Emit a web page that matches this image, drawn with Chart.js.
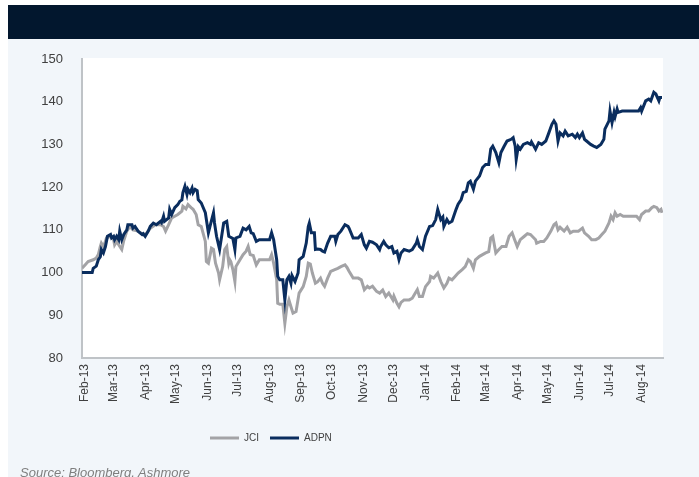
<!DOCTYPE html>
<html>
<head>
<meta charset="utf-8">
<script src="https://cdn.jsdelivr.net/npm/chart.js@4.4.1/dist/chart.umd.min.js"></script>
<style>
  html, body { margin: 0; padding: 0; background: #ffffff; overflow: hidden; }
  #wrap { position: relative; width: 699px; height: 477px; overflow: hidden; }
  #band { position: absolute; left: 8px; top: 5px; width: 691px; height: 34px; background: #02172e; }
  #panel { position: absolute; left: 8px; top: 39px; width: 691px; height: 438px; background: #f2f6fa; }
  #c { position: absolute; left: 0; top: 0; }
  #source { position: absolute; left: 20px; top: 465px; line-height: 15px; font: italic 13px "Liberation Sans", Arial, sans-serif; color: #7f7f7f; white-space: nowrap; }
</style>
</head>
<body>
<div id="wrap">
  <div id="band"></div>
  <div id="panel"></div>
  <canvas id="c" width="699" height="477"></canvas>
  <div id="source">Source: Bloomberg, Ashmore</div>
</div>
<script>
// Day offsets are counted from 1 Feb 2013
const startDate = Date.UTC(2013, 1, 1);
const seriesNames = ['JCI', 'ADPN'];
const monthLabels = ['Feb-13','Mar-13','Apr-13','May-13','Jun-13','Jul-13','Aug-13','Sep-13','Oct-13','Nov-13','Dec-13','Jan-14','Feb-14','Mar-14','Apr-14','May-14','Jun-14','Jul-14','Aug-14'];
const yTicks = [80, 90, 100, 110, 120, 130, 140, 150];

const adpnDays = [-3,7,8,11,13,15,16,18,20,22,25,26,28,29,31,33,34,36,38,41,42,46,47,49,52,56,57,59,62,64,67,70,74,75,77,78,82,83,85,88,91,93,95,96,98,100,101,103,105,106,108,110,111,114,118,121,123,126,127,129,132,134,136,139,141,145,147,148,152,155,158,161,163,165,168,171,181,183,185,188,189,191,194,196,198,200,202,203,206,209,210,214,217,219,220,222,225,226,228,231,233,235,238,241,245,246,248,251,255,258,259,263,268,271,274,276,279,282,286,289,290,293,295,298,301,303,306,308,310,313,318,321,325,326,328,331,334,338,341,344,346,349,351,352,355,357,360,364,366,369,371,374,376,378,381,383,387,390,393,396,398,400,403,406,408,411,414,418,420,422,423,425,427,430,434,437,438,442,445,448,452,455,458,460,462,464,466,469,471,474,478,481,483,485,488,490,492,496,499,502,506,509,510,514,515,517,519,520,522,523,527,532,543,545,546,550,553,555,558,560,563,564,566];
const adpnValues = [100,100,101,101.5,103,103.7,105.4,104.6,106.1,108.5,108.9,108.1,108.5,107.7,108.5,107.7,109.7,107.7,108.9,110,111.2,111.2,110.4,110.8,109.7,108.9,109.1,108.5,109.7,110.8,111.6,111.2,112,111.7,113.2,112,112.8,114.8,113.6,115.2,115.9,116.7,117,118.7,120.2,118.3,119.5,118.7,119.8,118.7,119.5,119.2,117.1,116.3,114,109.3,111.2,114,111.6,108.5,105.4,108.5,111.6,112,108.5,108,105.4,108.1,108.5,110.4,110,110.8,109.3,109.1,107.3,107.7,107.7,109.3,107.7,103,99.1,98.3,98.3,93.6,98.3,99.1,97.5,99.3,97.9,99.9,103,103.8,106.9,110.8,111.6,109.3,109.3,105.4,105.5,105.4,105,104.8,106.9,108.5,108.5,107.3,108.9,109.7,111.2,110.8,110.4,108.1,108.1,108.9,106.5,105.7,107.3,107.1,106.5,105.4,106.1,107.3,106.5,105.8,106.1,104.6,105,103,104.6,105.4,105,105.4,106.9,107.7,106.1,105.4,108.5,110.8,111,112.4,114.8,112.4,113,110.8,112.4,111.6,112,114.8,116,117.1,118.7,119,121,121.4,119.5,121.4,122.6,124.6,125.3,125.3,128.9,129.6,128.1,125.7,128.1,129.5,130.8,131.2,131.6,129.6,126.5,129.5,128.9,130,130.4,130,130.6,128.9,130.4,130,130.8,132.7,134.7,135.5,134.7,130.8,132.7,132,133.1,132,132.4,131.6,132.4,131.6,132.7,131.2,130.8,130,129.6,129.3,130,131.2,133.6,135.5,137.8,135.1,137.5,136.5,138.3,137.5,137.8,137.8,137.8,138.6,137.8,140.2,140.6,140.2,142.2,141.8,140.2,141,141];

const jciDays = [-3,0,3,8,11,13,15,16,18,20,21,25,28,29,31,33,36,38,41,44,47,52,57,60,64,69,74,77,79,82,85,88,91,95,96,99,101,104,106,109,111,114,118,119,121,123,124,126,128,131,132,135,137,139,141,142,143,145,147,148,152,155,158,160,162,165,168,171,176,181,183,185,188,189,191,194,196,198,200,202,204,207,210,214,217,219,221,223,226,228,231,233,235,238,241,245,248,251,255,257,259,263,268,271,274,277,279,282,286,289,292,295,298,302,303,306,308,310,313,318,321,324,326,328,331,334,338,339,342,346,349,352,355,357,360,363,366,370,373,376,378,381,383,387,390,393,396,398,400,403,406,409,413,416,419,421,424,427,431,434,437,442,443,447,450,453,457,460,462,464,466,470,473,476,479,484,488,490,494,497,501,504,507,510,514,516,518,520,522,525,528,541,544,546,550,553,556,558,561,563,565,566];
const jciValues = [101,101.8,102.6,103,103.4,104.2,106.1,106.9,106.1,107.3,108.1,108.5,107.7,106.5,107.3,106.5,105.4,107.5,109.7,110.8,110,109.7,108.9,109.1,110.4,111.2,111.2,110.8,109.7,111.2,112.8,113.2,113.6,114.4,115.5,114.9,115.9,115.2,114.8,113.6,111.2,110.8,107.3,102.6,102.2,104.5,105.7,105.4,102.2,99.9,98.3,101.4,105.4,106.1,102.2,103,102.6,100.7,97.9,101.4,103,104.2,105,106.1,104.2,104,101.8,103,103,103,104.2,102.2,98.3,92.8,92.6,92.6,88.1,92,93.6,92,90.5,90.9,95.2,96.7,99.1,102.2,102,99.9,97.5,97.8,98.7,97.5,96.8,98.7,100.3,100.7,101,101.4,101.8,101.2,100.3,98.7,98.7,98.3,96,96.8,96.4,96.8,95.6,95.2,95.9,94.4,95.2,93.6,94.5,92.8,92,93,93.6,93.6,94,95.2,96,94.4,94.4,96.7,97.9,99.1,98.7,99.9,97.9,96.4,97.5,98.7,98.3,99.1,99.9,100.7,101.4,103,102.6,101,103,103.8,104.2,104.6,104.9,108.1,108.5,104.6,105.4,106.1,106.1,108.5,109.3,108,106.1,107.7,108.5,109.1,108.9,107.7,106.9,107.3,107.3,108.1,109.7,111.2,111.6,110,110.6,109.7,110.6,109.3,109.7,109.7,110.4,109.3,108.5,107.7,107.7,108.1,108.9,109.7,111.6,113.2,112.4,114,113.2,113.6,113.2,113.2,112.4,113.6,114.4,114.4,115.2,115.5,115.2,114.4,114.8,114];

function monthStartDays() {
  const out = [];
  for (let i = 0; i < monthLabels.length; i++) {
    const d = Date.UTC(2013, 1 + i, 1);
    out.push(Math.round((d - startDate) / 86400000));
  }
  return out;
}
function toPoints(days, vals) { return days.map((d, i) => ({ x: d, y: vals[i] })); }

const JCI_COLOR = '#a3a3a6';
const ADPN_COLOR = '#0a2d5e';
const LEGEND_START_X = 210;
const PAD_BOTTOM = 24;
const AREA_BOTTOM = 358;

const bgPlugin = {
  id: 'plotBg',
  beforeDraw(chart) {
    const { ctx, chartArea: a } = chart;
    ctx.save();
    ctx.fillStyle = '#ffffff';
    ctx.fillRect(a.left, a.top - 1, a.right - a.left, a.bottom - a.top + 1);
    ctx.restore();
  }
};
const legendShift = {
  id: 'legendShift',
  afterLayout(chart) {
    const lg = chart.legend;
    if (!lg || !lg.lineWidths) return;
    const pad = lg.options.labels.padding;
    const cur = (lg.left + pad + lg.right - lg.lineWidths[0]) / 2;
    const delta = LEGEND_START_X - cur;
    lg.left += delta; lg.right += delta;
  }
};

new Chart(document.getElementById('c'), {
  type: 'line',
  data: {
    datasets: [
      { label: seriesNames[0], data: toPoints(jciDays, jciValues), borderColor: JCI_COLOR, backgroundColor: JCI_COLOR, borderWidth: 3, pointRadius: 0, tension: 0, order: 2 },
      { label: seriesNames[1], data: toPoints(adpnDays, adpnValues), borderColor: ADPN_COLOR, backgroundColor: ADPN_COLOR, borderWidth: 3, pointRadius: 0, tension: 0, order: 1 }
    ]
  },
  options: {
    responsive: false,
    animation: false,
    devicePixelRatio: 1,
    layout: { padding: { left: 0, right: 36, top: 59, bottom: PAD_BOTTOM } },
    plugins: {
      tooltip: { enabled: false },
      legend: {
        position: 'bottom',
        labels: {
          boxWidth: 29, boxHeight: 3, padding: 11,
          color: '#404040',
          font: { family: '"Liberation Sans", Arial, sans-serif', size: 10 },
          sort: (a, b) => a.datasetIndex - b.datasetIndex,
          generateLabels(chart) {
            return chart.data.datasets.map((ds, i) => ({
              text: ds.label, fillStyle: ds.borderColor, strokeStyle: ds.borderColor,
              lineWidth: 0, hidden: false, datasetIndex: i, fontColor: '#404040'
            }));
          }
        }
      }
    },
    scales: {
      x: {
        type: 'linear',
        min: -3, max: 567,
        afterFit(s) { s.height = s.chart.height - AREA_BOTTOM - PAD_BOTTOM - (s.chart.legend ? s.chart.legend.height : 0); },
        afterBuildTicks(s) { s.ticks = monthStartDays().map(v => ({ value: v })); },
        grid: { display: false, drawTicks: false },
        border: { display: true, color: '#bfc3c7', width: 2 },
        ticks: {
          autoSkip: false, minRotation: 90, maxRotation: 90, padding: 6,
          color: '#404040',
          font: { family: '"Liberation Sans", Arial, sans-serif', size: 12 },
          callback: (v, i) => monthLabels[i]
        }
      },
      y: {
        min: 80, max: 150,
        afterFit(s) { s.width = 82; },
        afterBuildTicks(s) { s.ticks = yTicks.map(v => ({ value: v })); },
        grid: { display: false, drawTicks: false },
        border: { display: true, color: '#bfc3c7', width: 2 },
        ticks: {
          padding: 19,
          color: '#404040',
          font: { family: '"Liberation Sans", Arial, sans-serif', size: 13 },
          callback: v => String(v)
        }
      }
    }
  },
  plugins: [bgPlugin, legendShift]
});
</script>
</body>
</html>
